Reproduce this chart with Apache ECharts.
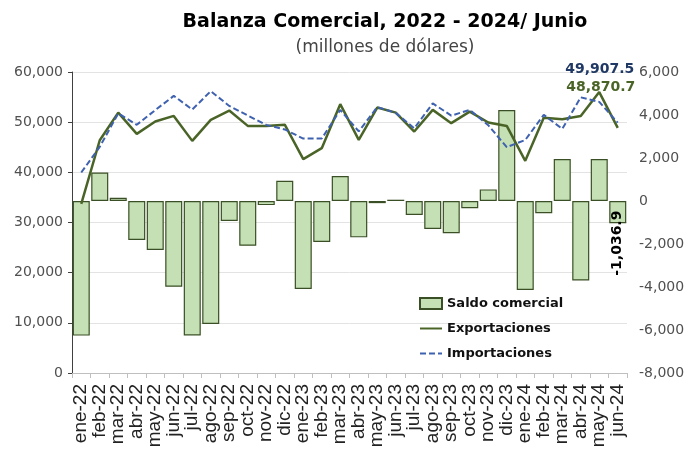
<!DOCTYPE html>
<html>
<head>
<meta charset="utf-8">
<script src="https://cdn.jsdelivr.net/npm/echarts@6/dist/echarts.min.js"></script>
<style>
  html, body { margin: 0; padding: 0; background: #fff; }
  #chart { width: 688px; height: 457px; }
</style>
</head>
<body>
<div id="chart"></div>
<script>
// meses
var meses = ['ene-22', 'feb-22', 'mar-22', 'abr-22', 'may-22', 'jun-22', 'jul-22', 'ago-22', 'sep-22', 'oct-22', 'nov-22', 'dic-22',
    'ene-23', 'feb-23', 'mar-23', 'abr-23', 'may-23', 'jun-23', 'jul-23', 'ago-23', 'sep-23', 'oct-23', 'nov-23', 'dic-23',
    'ene-24', 'feb-24', 'mar-24', 'abr-24', 'may-24', 'jun-24'];

// saldo comercial (eje derecho)
var saldo = [-6260, 1320, 150, -1810, -2280, -3990, -6250, -5720, -930, -2080, -190, 945,
    -4090, -1910, 1160, -1690, -100, 60, -650, -1300, -1500, -340, 540, 4230,
    -4140, -570, 1950, -3700, 1950, -1036.9];

// exportaciones e importaciones (eje izquierdo)
var exportaciones = [33700, 46400, 51910, 47670, 50120, 51250, 46270, 50460, 52310, 49260, 49260, 49500,
    42630, 44820, 53590, 46470, 52910, 51910, 48130, 52450, 49800, 52110, 49930, 49250,
    42300, 50900, 50600, 51250, 56000, 48870.7];
var importaciones = [39960, 45080, 51760, 49480, 52400, 55240, 52520, 56180, 53240, 51340, 49450, 48555,
    46720, 46730, 52430, 48160, 53010, 51850, 48780, 53750, 51300, 52450, 49390, 45020,
    46440, 51470, 48650, 54950, 54050, 49907.5];

var fuente = '"DejaVu Sans", sans-serif';
var fuenteMeses = '"Liberation Sans", Arial, sans-serif';

var chart = echarts.init(document.getElementById('chart'));

var ultimo = meses.length - 1;

function fmt1(p) {
    return p.value.toLocaleString('en-US', { minimumFractionDigits: 1 });
}
function fmt0(v) {
    return v.toLocaleString('en-US');
}

chart.setOption({
    animation: false,
    title: {
        text: 'Balanza Comercial, 2022 - 2024/ Junio',
        subtext: '(millones de dólares)',
        left: 380,
        textAlign: 'center',
        top: 8,
        itemGap: 7,
        textStyle: { fontFamily: fuente, fontSize: 19, fontWeight: 'bold', color: '#000' },
        subtextStyle: { fontFamily: fuente, fontSize: 17, color: '#444' }
    },
    legend: {
        orient: 'vertical',
        left: 414,
        top: 292,
        itemGap: 12,
        itemWidth: 22,
        itemHeight: 11,
        textStyle: { fontFamily: fuente, fontSize: 13, fontWeight: 'bold', color: '#111' },
        data: [
            { name: 'Saldo comercial', icon: 'rect' },
            { name: 'Exportaciones', itemStyle: { opacity: 0 } },
            { name: 'Importaciones', itemStyle: { opacity: 0 } }
        ]
    },
    grid: { left: 72, right: 61, top: 72, bottom: 84 },
    xAxis: {
        type: 'category',
        data: meses,
        axisLine: { lineStyle: { color: '#BFBFBF' } },
        axisTick: { show: true, length: 5, lineStyle: { color: '#BFBFBF' } },
        axisLabel: { interval: 0, rotate: 90, fontFamily: fuenteMeses, fontSize: 19, color: '#222', margin: 11 }
    },
    yAxis: [
        {
            type: 'value',
            min: 0,
            max: 60000,
            interval: 10000,
            axisLine: { show: true, lineStyle: { color: '#404040' } },
            axisTick: { show: true, length: 4, lineStyle: { color: '#404040' } },
            splitLine: { lineStyle: { color: '#E3E3E3' } },
            axisLabel: { fontFamily: fuente, fontSize: 14, color: '#505050', margin: 9, formatter: fmt0 }
        },
        {
            type: 'value',
            min: -8000,
            max: 6000,
            interval: 2000,
            alignTicks: false,
            axisLine: { show: false },
            axisTick: { show: false },
            splitLine: { show: false },
            axisLabel: { fontFamily: fuente, fontSize: 14, color: '#505050', margin: 12, formatter: fmt0 }
        }
    ],
    series: [
        {
            name: 'Saldo comercial',
            type: 'bar',
            yAxisIndex: 1,
            barCategoryGap: '8%',
            itemStyle: { color: '#C5E0B4', borderColor: '#3A4F25', borderWidth: 1.2 },
            data: saldo.map(function (v, i) {
                if (i !== ultimo) return v;
                return {
                    value: v,
                    label: {
                        show: true,
                        position: 'inside',
                        rotate: 90,
                        offset: [-31, 0],
                        fontFamily: fuente,
                        fontSize: 14,
                        fontWeight: 'bold',
                        color: '#000',
                        formatter: fmt1
                    }
                };
            })
        },
        {
            name: 'Exportaciones',
            type: 'line',
            yAxisIndex: 0,
            symbol: 'none',
            lineStyle: { color: '#4A6427', width: 2.5 },
            itemStyle: { color: '#4A6427' },
            data: exportaciones.map(function (v, i) {
                if (i !== ultimo) return v;
                return {
                    value: v,
                    symbol: 'circle',
                    symbolSize: 0,
                    label: {
                        show: true,
                        position: 'top',
                        offset: [-17, -28],
                        fontFamily: fuente,
                        fontSize: 14,
                        fontWeight: 'bold',
                        color: '#4A6427',
                        formatter: fmt1
                    }
                };
            })
        },
        {
            name: 'Importaciones',
            type: 'line',
            yAxisIndex: 0,
            symbol: 'none',
            lineStyle: { color: '#3F62B0', width: 2, type: [6, 3] },
            itemStyle: { color: '#3F62B0' },
            data: importaciones.map(function (v, i) {
                if (i !== ultimo) return v;
                return {
                    value: v,
                    symbol: 'circle',
                    symbolSize: 0,
                    label: {
                        show: true,
                        position: 'top',
                        offset: [-18, -41],
                        fontFamily: fuente,
                        fontSize: 14,
                        fontWeight: 'bold',
                        color: '#203864',
                        formatter: fmt1
                    }
                };
            })
        }
    ]
});
</script>
</body>
</html>
